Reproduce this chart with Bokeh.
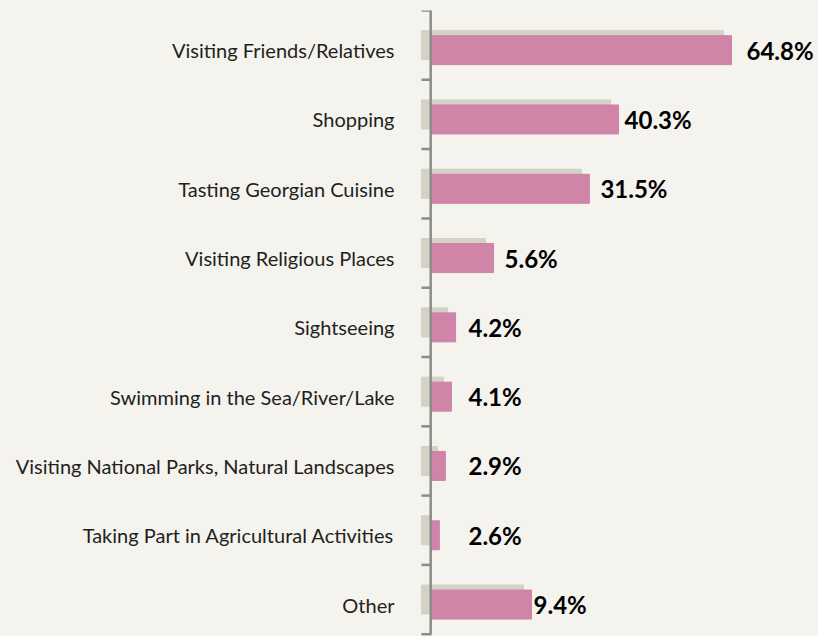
import numpy as np
from bokeh.plotting import figure
from bokeh.models import Range1d, ColumnDataSource
from bokeh.core.properties import value
from bokeh.embed import file_html
from bokeh.resources import INLINE

# ---- data ----
categories = [
    "Visiting Friends/Relatives",
    "Shopping",
    "Tasting Georgian Cuisine",
    "Visiting Religious Places",
    "Sightseeing",
    "Swimming in the Sea/River/Lake",
    "Visiting National Parks, Natural Landscapes",
    "Taking Part in Agricultural Activities",
    "Other",
]
values = [64.8, 40.3, 31.5, 5.6, 4.2, 4.1, 2.9, 2.6, 9.4]          # printed labels, %
bar_lengths = [64.8, 40.4, 34.1, 13.4, 5.2, 4.3, 3.0, 1.7, 21.6]    # drawn bar length as seen, %
value_labels = [f"{v:.1f}%" for v in values]

# ---- layout / style constants ----
BG = "#F4F3EE"
PINK = "#CF84A8"
SHADOW = "#D3D2C5"
AXIS = "#8C8C88"
TEXT = "#231F20"

W, H = 818, 636
PX = 4.63            # pixels per percent
ROW = 69.3           # pixels per row
X0_PX = 431          # pixel offset of x=0 inside the frame
TOP = 10             # min border top

def px(n):
    return n / PX

def py(n):
    return n / ROW

label_gap_px = [15, 6, 11, 11, 13, 13, 13, 13, 2]
min_label_px = 37

n = len(categories)
idx = np.arange(n)
pink_y = idx + 0.5 + py(5)
shadow_y = idx + 0.5

label_x = [max(b + px(g), px(min_label_px)) for b, g in zip(bar_lengths, label_gap_px)]

src = ColumnDataSource(dict(
    cat=categories, val=values, length=bar_lengths, lbl=value_labels,
    pink_y=pink_y, shadow_y=shadow_y,
    shadow_left=[-px(10)] * n,
    shadow_right=[b - px(8) for b in bar_lengths],
    label_x=label_x,
    cat_x=[-px(37)] * n,
))

x_start = -px(X0_PX)
x_end = x_start + px(W)
frame_h = H - TOP

p = figure(width=W, height=H, output_backend="svg", toolbar_location=None,
           x_range=Range1d(x_start, x_end),
           y_range=Range1d(frame_h / ROW, 0),
           min_border_left=0, min_border_right=0, min_border_top=TOP, min_border_bottom=0)
p.axis.visible = False
p.grid.visible = False
p.outline_line_color = None
p.background_fill_color = BG
p.border_fill_color = BG

# shadow bars
p.hbar(y="shadow_y", left="shadow_left", right="shadow_right", height=py(29),
       color=SHADOW, source=src)
# main bars
p.hbar(y="pink_y", left=0, right="length", height=py(29), color=PINK, source=src)

# axis line and ticks at category boundaries
bounds = np.arange(n + 1)
p.segment(x0=[-px(0.8)], y0=[0], x1=[-px(0.8)], y1=[n], line_color=AXIS, line_width=2.5)
p.segment(x0=[-px(10)] * (n + 1), y0=bounds, x1=[0] * (n + 1), y1=bounds,
          line_color=AXIS, line_width=2.5)

# category labels
p.text(x="cat_x", y="pink_y", text="cat", source=src, text_align="right",
       text_baseline="middle", text_font=value("Lato"), text_font_size="20px",
       text_color=TEXT)
# value labels
p.text(x="label_x", y="pink_y", text="lbl", source=src, text_align="left",
       text_baseline="middle", text_font=value("Lato"), text_font_size="24px",
       text_font_style="bold", text_color="#000000")

html = file_html(p, INLINE)
html = html.replace("<head>", "<head><style>html,body{background:%s;}</style>" % BG, 1)
open("out.html", "w").write(html)
